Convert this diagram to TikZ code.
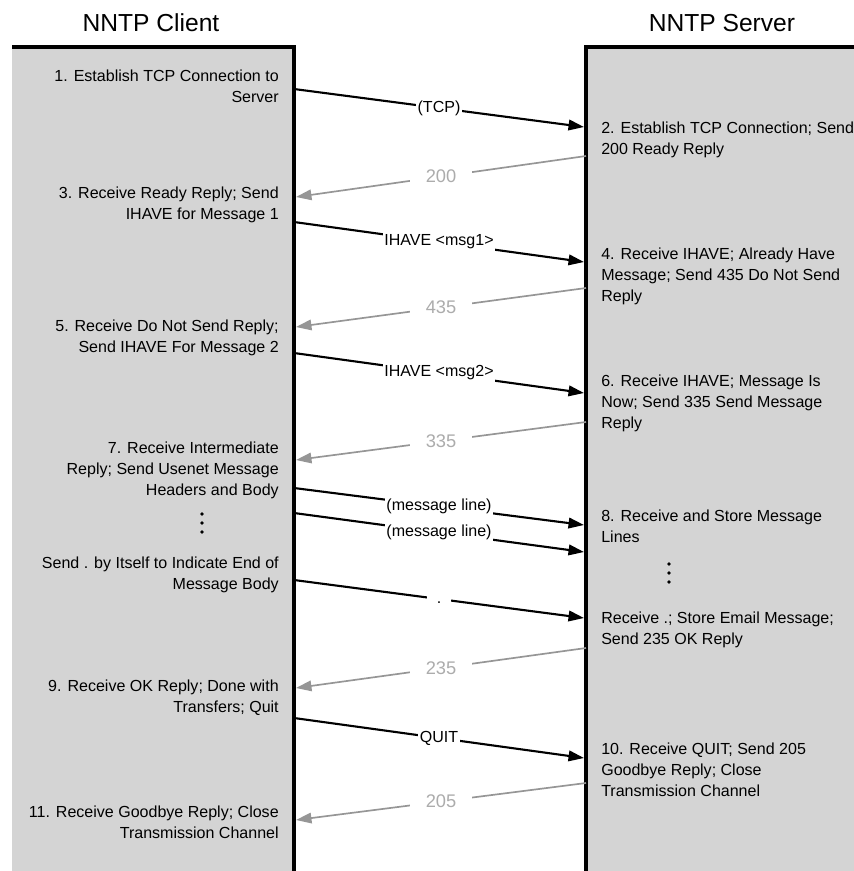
\documentclass[tikz,border=0pt]{standalone}
\usepackage{fontspec}
\setmainfont{Liberation Sans}
\usetikzlibrary{arrows.meta}
\usepackage{xcolor}
\definecolor{laneGray}{RGB}{212,212,212}
\definecolor{replyGray}{RGB}{150,150,150}
\definecolor{replyText}{RGB}{172,172,172}
\tikzset{
    font=\fontsize{11.4}{14.7}\selectfont,
    >={Triangle[length=11pt,width=7.5pt]},
    % Lanes
    lane/.style={fill=laneGray},
    laneEdge/.style={line width=2.4pt, black},
    title/.style={font=\fontsize{17.5}{20}\selectfont},
    dotMark/.style={fill=black},
    % Step texts
    cliTxt/.style={anchor=north east, align=right, inner sep=0pt},
    srvTxt/.style={anchor=north west, align=left, inner sep=0pt},
    % Flow & Labels
    req/.style={->, line width=1.5pt, black},
    reply/.style={->, line width=1.2pt, replyGray},
    lbl/.style={fill=white, inner sep=1pt},
    rlbl/.style={fill=white, inner xsep=11pt, inner ysep=1pt, text=replyText,
                 font=\fontsize{13}{15}\selectfont}
}
\begin{document}
\begin{tikzpicture}[x=0.025cm, y=-0.025cm]
\useasboundingbox (0,0) rectangle (854,871);

% lanes
\fill[lane] (12,47) rectangle (294,871);
\fill[lane] (586,47) rectangle (854,871);
\draw[laneEdge] (12,47) -- (294,47) -- (294,871);
\draw[laneEdge] (854,47) -- (586,47) -- (586,871);

\node[title] (cliTitle) at (151,23) {NNTP Client};
\node[title] (srvTitle) at (722,23) {NNTP Server};

% client side
\node[cliTxt] (step1) at (279,70) {1. Establish TCP Connection to\\Server};
\node[cliTxt] (step3) at (279,187) {3. Receive Ready Reply; Send\\IHAVE for Message 1};
\node[cliTxt] (step5) at (279,320) {5. Receive Do Not Send Reply;\\Send IHAVE For Message 2};
\node[cliTxt] (step7) at (279,442) {7. Receive Intermediate\\Reply; Send Usenet Message\\Headers and Body};
\node[cliTxt] (stepEnd) at (279,557) {Send . by Itself to Indicate End of\\Message Body};
\node[cliTxt] (step9) at (279,680) {9. Receive OK Reply; Done with\\Transfers; Quit};
\node[cliTxt] (step11) at (279,806) {11. Receive Goodbye Reply; Close\\Transmission Channel};

% server side
\node[srvTxt] (step2) at (601,122) {2. Establish TCP Connection; Send\\200 Ready Reply};
\node[srvTxt] (step4) at (601,248) {4. Receive IHAVE; Already Have\\Message; Send 435 Do Not Send\\Reply};
\node[srvTxt] (step6) at (601,375) {6. Receive IHAVE; Message Is\\Now; Send 335 Send Message\\Reply};
\node[srvTxt] (step8) at (601,510) {8. Receive and Store Message\\Lines};
\node[srvTxt] (stepStore) at (601,612) {Receive .; Store Email Message;\\Send 235 OK Reply};
\node[srvTxt] (step10) at (601,743) {10. Receive QUIT; Send 205\\Goodbye Reply; Close\\Transmission Channel};

% vertical dots
\fill[dotMark] (202,514) circle (1.8) (202,523) circle (1.8) (202,532) circle (1.8);
\fill[dotMark] (669,564) circle (1.8) (669,573) circle (1.8) (669,582) circle (1.8);

% ends on the lane borders
\coordinate (cTcp) at (294,89);   \coordinate (sTcp) at (584,127);
\coordinate (s200) at (586,156);  \coordinate (c200) at (296,197);
\coordinate (cMsg1) at (294,222); \coordinate (sMsg1) at (584,262);
\coordinate (s435) at (586,288);  \coordinate (c435) at (296,327);
\coordinate (cMsg2) at (294,353); \coordinate (sMsg2) at (584,393);
\coordinate (s335) at (586,422);  \coordinate (c335) at (296,460);
\coordinate (cLineA) at (294,488); \coordinate (sLineA) at (584,525);
\coordinate (cLineB) at (294,513); \coordinate (sLineB) at (584,552);
\coordinate (cDot) at (294,580);  \coordinate (sDot) at (584,618);
\coordinate (s235) at (586,648);  \coordinate (c235) at (296,688);
\coordinate (cQuit) at (294,718); \coordinate (sQuit) at (584,758);
\coordinate (s205) at (586,783);  \coordinate (c205) at (296,820);

\draw[req] (cTcp) -- node[lbl] {(TCP)} (sTcp);
\draw[reply] (s200) -- node[rlbl] {200} (c200);
\draw[req] (cMsg1) -- node[lbl] {IHAVE <msg1>} (sMsg1);
\draw[reply] (s435) -- node[rlbl] {435} (c435);
\draw[req] (cMsg2) -- node[lbl] {IHAVE <msg2>} (sMsg2);
\draw[reply] (s335) -- node[rlbl] {335} (c335);
\draw[req] (cLineA) -- node[lbl] {(message line)} (sLineA);
\draw[req] (cLineB) -- node[lbl] {(message line)} (sLineB);
\draw[req] (cDot) -- node[lbl, inner xsep=7pt, text height=8pt, text depth=1pt] {.} (sDot);
\draw[reply] (s235) -- node[rlbl] {235} (c235);
\draw[req] (cQuit) -- node[lbl] {QUIT} (sQuit);
\draw[reply] (s205) -- node[rlbl] {205} (c205);

\end{tikzpicture}
\end{document}
